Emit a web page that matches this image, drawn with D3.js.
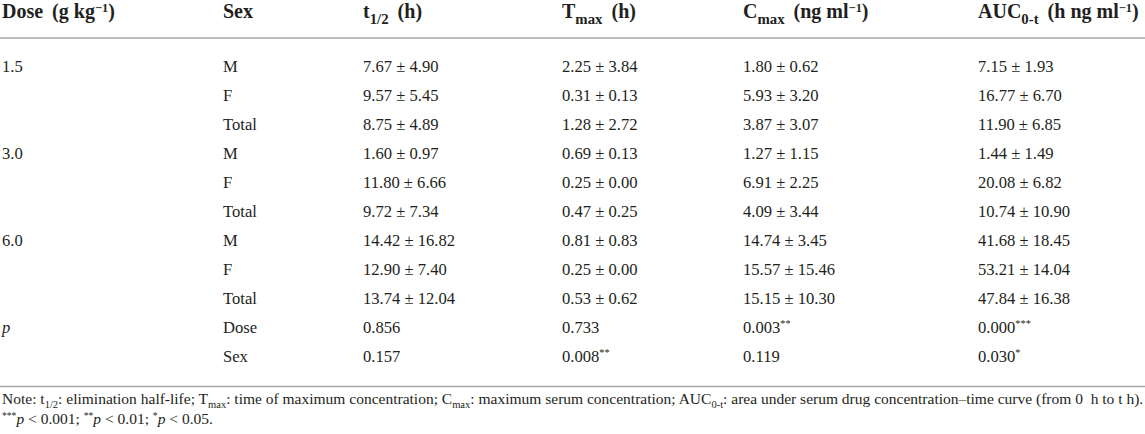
<!DOCTYPE html>
<html>
<head>
<meta charset="utf-8">
<script src="https://cdn.jsdelivr.net/npm/d3@7/dist/d3.min.js"></script>
<style>
  html, body { margin: 0; padding: 0; background: #fff; }
  svg { display: block; }
</style>
</head>
<body>
<svg id="chart" width="1145" height="434"></svg>
<script>
// ---- data ----
const columns = ["dose", "sex", "t12", "tmax", "cmax", "auc"];
const headers = [
  [{t: "Dose"}, {t: " (g kg", gap: true}, {t: "−1", sup: true}, {t: ")"}],
  [{t: "Sex"}],
  [{t: "t"}, {t: "1/2", sub: true}, {t: " (h)", gap: true}],
  [{t: "T"}, {t: "max", sub: true}, {t: " (h)", gap: true}],
  [{t: "C"}, {t: "max", sub: true}, {t: " (ng ml", gap: true}, {t: "−1", sup: true}, {t: ")"}],
  [{t: "AUC"}, {t: "0-t", sub: true}, {t: " (h ng ml", gap: true}, {t: "−1", sup: true}, {t: ")"}]
];
const doseLabels = ["1.5", "3.0", "6.0"];
const sexLabels = ["M", "F", "Total"];
const t12Values = ["7.67 ± 4.90", "9.57 ± 5.45", "8.75 ± 4.89", "1.60 ± 0.97", "11.80 ± 6.66", "9.72 ± 7.34", "14.42 ± 16.82", "12.90 ± 7.40", "13.74 ± 12.04"];
const tmaxValues = ["2.25 ± 3.84", "0.31 ± 0.13", "1.28 ± 2.72", "0.69 ± 0.13", "0.25 ± 0.00", "0.47 ± 0.25", "0.81 ± 0.83", "0.25 ± 0.00", "0.53 ± 0.62"];
const cmaxValues = ["1.80 ± 0.62", "5.93 ± 3.20", "3.87 ± 3.07", "1.27 ± 1.15", "6.91 ± 2.25", "4.09 ± 3.44", "14.74 ± 3.45", "15.57 ± 15.46", "15.15 ± 10.30"];
const aucValues = ["7.15 ± 1.93", "16.77 ± 6.70", "11.90 ± 6.85", "1.44 ± 1.49", "20.08 ± 6.82", "10.74 ± 10.90", "41.68 ± 18.45", "53.21 ± 14.04", "47.84 ± 16.38"];
const pLabel = "p";
const pFactors = ["Dose", "Sex"];
const pT12 = [[{t: "0.856"}], [{t: "0.157"}]];
const pTmax = [[{t: "0.733"}], [{t: "0.008"}, {t: "**", sup: true}]];
const pCmax = [[{t: "0.003"}, {t: "**", sup: true}], [{t: "0.119"}]];
const pAuc = [[{t: "0.000"}, {t: "***", sup: true}], [{t: "0.030"}, {t: "*", sup: true}]];
const noteLines = [
  [{t: "Note: t"}, {t: "1/2", sub: true}, {t: ": elimination half-life; T"}, {t: "max", sub: true},
   {t: ": time of maximum concentration; C"}, {t: "max", sub: true},
   {t: ": maximum serum concentration; AUC"}, {t: "0-t", sub: true},
   {t: ": area under serum drug concentration–time curve (from 0  h to t h)."}],
  [{t: "***", sup: true}, {t: "p", it: true}, {t: " < 0.001; "}, {t: "**", sup: true}, {t: "p", it: true},
   {t: " < 0.01; "}, {t: "*", sup: true}, {t: "p", it: true}, {t: " < 0.05."}]
];

// ---- build rows ----
const rows = [];
doseLabels.forEach((d, gi) => {
  sexLabels.forEach((s, si) => {
    const k = gi * 3 + si;
    rows.push({
      dose: si === 0 ? [{t: d}] : [],
      sex: [{t: s}],
      t12: [{t: t12Values[k]}],
      tmax: [{t: tmaxValues[k]}],
      cmax: [{t: cmaxValues[k]}],
      auc: [{t: aucValues[k]}]
    });
  });
});
pFactors.forEach((f, i) => {
  rows.push({
    dose: i === 0 ? [{t: pLabel, it: true}] : [],
    sex: [{t: f}],
    t12: pT12[i], tmax: pTmax[i], cmax: pCmax[i], auc: pAuc[i]
  });
});

// ---- layout ----
const W = 1145, H = 434;
const svg = d3.select("#chart");
const font = "'Liberation Serif', 'Times New Roman', serif";
const textColor = "#231f20";
const lineColor = "#aaaaaa";

const x = d3.scaleOrdinal().domain(columns).range([2, 223, 363, 562, 743, 978]);
const y = d3.scaleLinear().domain([0, rows.length - 1]).range([71.5, 361.5]);

function rich(sel, segs, size, subScale, supScale, supRaise, gapPx) {
  let off = 0;
  segs.forEach(s => {
    const ts = sel.append("tspan").text(s.t);
    let target = 0;
    if (s.sub) target = size * 0.3;
    if (s.sup) target = -size * supRaise;
    ts.attr("dy", target - off);
    off = target;
    if (s.sub) ts.attr("font-size", size * subScale);
    if (s.sup) ts.attr("font-size", size * supScale);
    if (s.it) ts.attr("font-style", "italic");
    if (s.gap && gapPx) ts.attr("dx", gapPx);
  });
}

// header
const headerSize = 20;
svg.append("g").selectAll("text")
  .data(columns)
  .join("text")
  .attr("x", c => x(c))
  .attr("y", 18)
  .attr("font-family", font)
  .attr("font-weight", "bold")
  .attr("font-size", headerSize)
  .attr("fill", textColor)
  .attr("xml:space", "preserve")
  .each(function(c, i) { rich(d3.select(this), headers[i], headerSize, 0.74, 0.62, 0.3, 4); });

// rules
svg.append("line").attr("x1", 0).attr("x2", W).attr("y1", 38).attr("y2", 38)
  .attr("stroke", lineColor).attr("stroke-width", 1.6);
svg.append("line").attr("x1", 0).attr("x2", W).attr("y1", 386.5).attr("y2", 386.5)
  .attr("stroke", lineColor).attr("stroke-width", 1.6);

// body
const bodySize = 16.6;
const rowG = svg.append("g").selectAll("g")
  .data(rows)
  .join("g")
  .attr("transform", (d, i) => `translate(0,${y(i)})`);

rowG.selectAll("text")
  .data(r => columns.map(c => ({c, segs: r[c]})))
  .join("text")
  .attr("x", d => x(d.c))
  .attr("y", 0)
  .attr("font-family", font)
  .attr("font-size", bodySize)
  .attr("fill", textColor)
  .each(function(d) { rich(d3.select(this), d.segs, bodySize, 0.68, 0.62, 0.32, 0); });

// note
const noteSize = 15.5;
const noteY = d3.scaleLinear().domain([0, 1]).range([403.5, 423.5]);
svg.append("g").selectAll("text")
  .data(noteLines)
  .join("text")
  .attr("x", 2)
  .attr("y", (d, i) => noteY(i))
  .attr("font-family", font)
  .attr("font-size", noteSize)
  .attr("fill", textColor)
  .attr("xml:space", "preserve")
  .each(function(d) { rich(d3.select(this), d, noteSize, 0.68, 0.62, 0.32, 0); });
</script>
</body>
</html>
